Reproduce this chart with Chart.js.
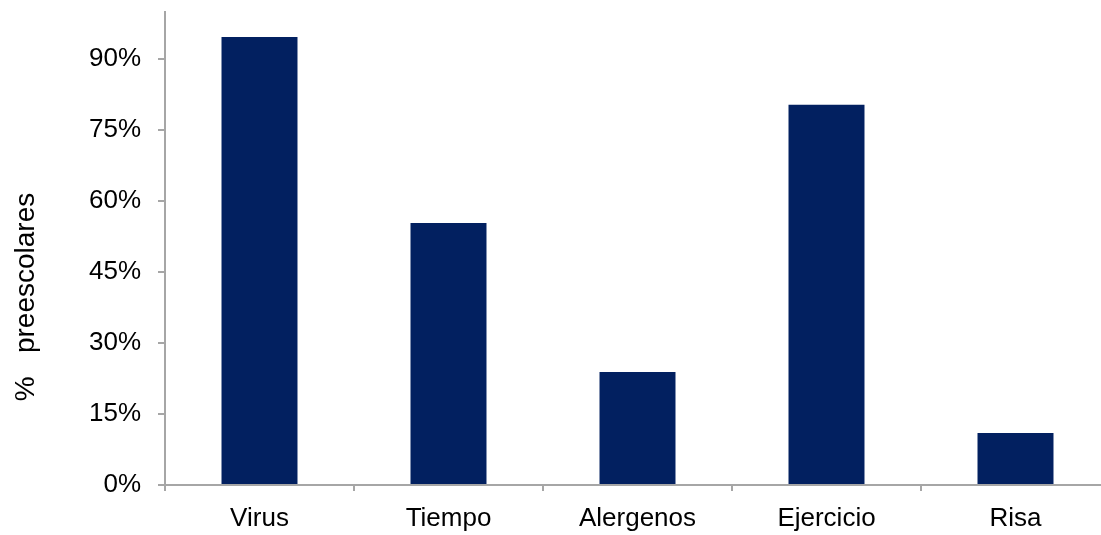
<!DOCTYPE html>
<html>
<head>
<meta charset="utf-8">
<script src="https://cdn.jsdelivr.net/npm/chart.js@4/dist/chart.umd.min.js"></script>
<style>
  html, body { margin: 0; padding: 0; background: #fff; overflow: hidden; }
  #wrap { position: relative; width: 1110px; height: 535px; }
</style>
</head>
<body>
<div id="wrap"><canvas id="triggerChart"></canvas></div>
<script>
  // desencadenantes de sibilancias, % de preescolares
  const categories = ['Virus', 'Tiempo', 'Alergenos', 'Ejercicio', 'Risa'];
  const percentages = [94.7, 55.4, 23.9, 80.4, 11.0];
  const yTicks = [0, 15, 30, 45, 60, 75, 90];
  const yTitle = '%   preescolares';

  const axisGrey = '#a6a6a6';
  const barColor = '#022060';
  const labelFont = { family: '"Liberation Sans", Arial', size: 26 };

  // rotated y title, sits a little below the middle of the axis
  const yTitlePlugin = {
    id: 'yTitle',
    afterDraw(chart) {
      const ctx = chart.ctx;
      ctx.save();
      ctx.translate(26, 297);
      ctx.rotate(-Math.PI / 2);
      ctx.font = '28px "Liberation Sans", Arial';
      ctx.fillStyle = '#000';
      ctx.textAlign = 'center';
      ctx.textBaseline = 'middle';
      ctx.fillText(yTitle, 0, 0);
      ctx.restore();
    }
  };

  const ctx = document.getElementById('triggerChart').getContext('2d');
  const triggerChart = new Chart(ctx, {
    type: 'bar',
    data: {
      labels: categories,
      datasets: [{
        label: '% preescolares',
        data: percentages,
        backgroundColor: barColor,
        borderWidth: 0,
        categoryPercentage: 1,
        barPercentage: 0.402
      }]
    },
    options: {
      responsive: true,
      maintainAspectRatio: false,
      animation: false,
      layout: { padding: { top: 12, left: 0, right: 0, bottom: 0 } },
      plugins: {
        legend: { display: false },
        tooltip: { enabled: false }
      },
      scales: {
        x: {
          grid: {
            offset: true,
            drawOnChartArea: false,
            drawTicks: true,
            tickLength: 6,
            color: axisGrey,
            lineWidth: 2
          },
          border: { color: axisGrey, width: 2 },
          ticks: {
            color: '#000',
            padding: 12,
            font: labelFont
          },
          afterFit(scale) {
            scale.height = 50;
            scale.paddingLeft = 0;
            scale.paddingRight = 0;
          }
        },
        y: {
          min: 0,
          max: 100,
          afterBuildTicks(scale) {
            scale.ticks = yTicks.map(v => ({ value: v }));
          },
          grid: {
            drawOnChartArea: false,
            drawTicks: true,
            tickLength: 7,
            color: axisGrey,
            lineWidth: 2
          },
          border: { color: axisGrey, width: 2 },
          ticks: {
            color: '#000',
            padding: 17,
            font: labelFont,
            callback: v => v + '%'
          },
          afterFit(scale) {
            scale.width = 165;
            scale.paddingTop = 0;
            scale.paddingBottom = 0;
          }
        }
      }
    },
    plugins: [yTitlePlugin]
  });
</script>
</body>
</html>
